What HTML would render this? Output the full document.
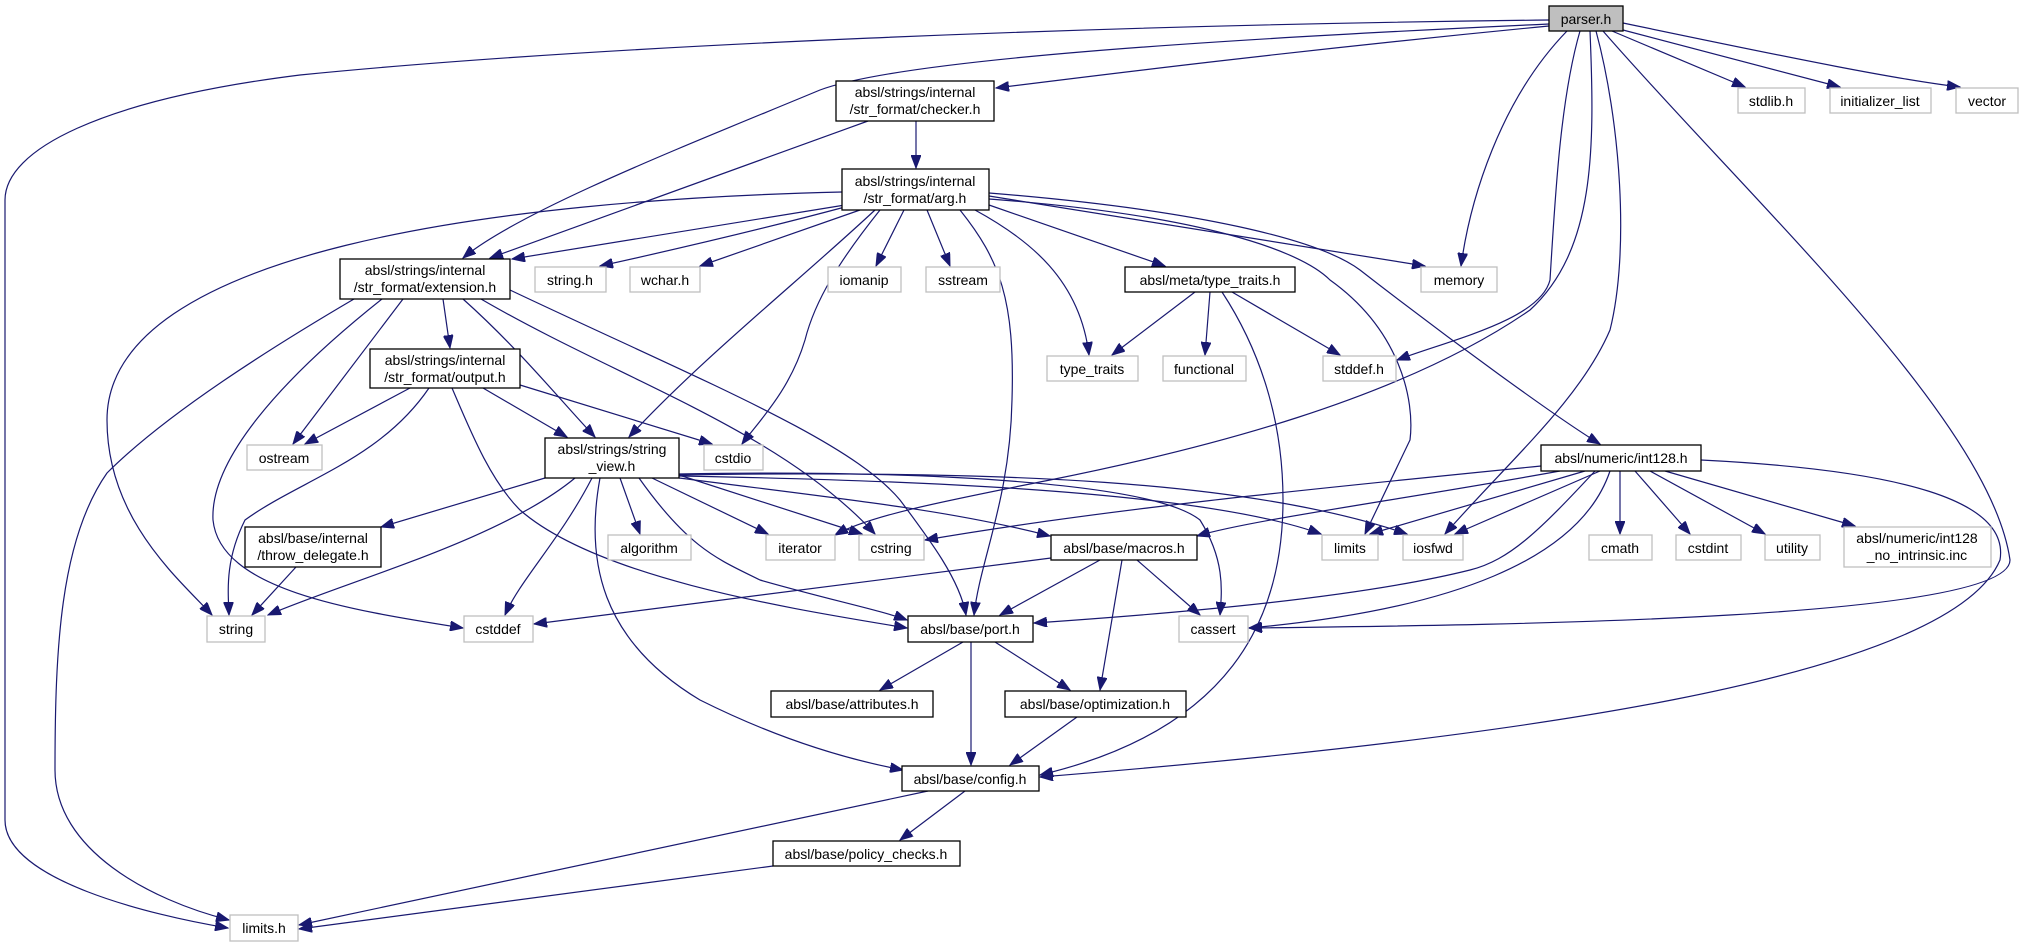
<!DOCTYPE html>
<html><head><meta charset="utf-8"><style>
html,body{margin:0;padding:0;background:#fff;}
svg{display:block;}
text{font-family:"Liberation Sans",sans-serif;font-size:14px;fill:#000;}
.e{fill:none;stroke:#191970;stroke-width:1.2;marker-end:url(#a);}
.n{fill:#fff;stroke:#000;stroke-width:1.3;}
.g{fill:#fff;stroke:#bfbfbf;stroke-width:1.3;}
</style></head><body>
<svg width="2025" height="947" viewBox="0 0 2025 947" xmlns="http://www.w3.org/2000/svg">
<defs><marker id="a" markerUnits="userSpaceOnUse" markerWidth="14" markerHeight="10" refX="13" refY="5" orient="auto"><path d="M0,0 L13,5 L0,10 z" fill="#191970" stroke="#191970"/></marker></defs>
<g>
<path class="e" d="M1549,20 C1100,25 600,45 300,75 C100,100 5,150 5,200 L5,820 C5,880 150,915 228,928"/>
<path class="e" d="M1549,24 C1200,40 900,60 820,90 C700,140 520,210 463,258"/>
<path class="e" d="M1549,26 C1300,50 1100,75 996,88"/>
<path class="e" d="M845,205 L512,259"/>
<path class="e" d="M868,121 L490,258"/>
<path class="e" d="M916,121 L916,168"/>
<path class="e" d="M845,207 C740,235 650,255 600,266"/>
<path class="e" d="M860,210 L700,266"/>
<path class="e" d="M904,210 L876,266"/>
<path class="e" d="M927,210 L950,266"/>
<path class="e" d="M842,192 C500,200 107,250 107,420 C107,520 180,580 212,615"/>
<path class="e" d="M875,210 C800,280 700,360 629,437"/>
<path class="e" d="M880,210 C840,260 815,300 805,340 C790,390 760,420 742,444"/>
<path class="e" d="M960,210 C1000,260 1015,300 1012,400 C1010,500 980,560 974,615"/>
<path class="e" d="M975,210 C1030,240 1080,280 1089,355"/>
<path class="e" d="M989,205 L1165,266"/>
<path class="e" d="M989,196 C1200,230 1350,255 1425,266"/>
<path class="e" d="M989,193 C1200,210 1320,240 1360,270 C1450,340 1560,420 1600,444"/>
<path class="e" d="M989,199 C1200,215 1300,250 1330,280 C1400,330 1415,400 1410,440 L1365,534"/>
<path class="e" d="M1567,31 C1500,100 1470,200 1461,266"/>
<path class="e" d="M1580,31 C1560,100 1555,200 1550,280 C1540,320 1450,340 1397,360"/>
<path class="e" d="M1590,31 C1595,150 1595,250 1530,310 C1400,400 1200,450 1050,480 C950,500 870,515 835,535"/>
<path class="e" d="M1596,31 C1620,120 1630,250 1610,330 C1580,400 1510,460 1445,534"/>
<path class="e" d="M1603,31 C1750,200 1990,420 2010,560 C2010,620 1500,625 1249,628"/>
<path class="e" d="M1612,31 L1745,87"/>
<path class="e" d="M1623,30 L1840,87"/>
<path class="e" d="M1623,23 C1800,60 1900,80 1960,87"/>
<path class="e" d="M443,299 L450,348"/>
<path class="e" d="M403,299 L293,444"/>
<path class="e" d="M463,299 C520,350 560,400 595,437"/>
<path class="e" d="M481,299 C620,380 780,430 875,534"/>
<path class="e" d="M510,290 C700,380 850,440 900,500 C930,540 960,580 966,615"/>
<path class="e" d="M354,299 C250,360 160,420 107,473 C60,540 55,650 55,770 C55,850 150,900 229,920"/>
<path class="e" d="M382,299 C280,380 210,460 213,520 C220,590 350,610 463,628"/>
<path class="e" d="M410,388 L305,444"/>
<path class="e" d="M483,388 L567,437"/>
<path class="e" d="M520,385 L712,444"/>
<path class="e" d="M429,388 C380,460 300,480 245,520 C225,560 228,590 229,615"/>
<path class="e" d="M452,388 C470,430 490,480 520,510 C600,580 800,610 907,628"/>
<path class="e" d="M545,478 L381,527"/>
<path class="e" d="M575,478 C500,540 350,580 268,615"/>
<path class="e" d="M592,478 C560,540 520,580 505,615"/>
<path class="e" d="M620,478 L640,534"/>
<path class="e" d="M652,478 L768,534"/>
<path class="e" d="M679,475 L862,534"/>
<path class="e" d="M639,478 C690,550 720,560 760,580 C830,600 880,610 907,620"/>
<path class="e" d="M600,478 C585,560 600,640 700,700 C780,740 850,760 903,770"/>
<path class="e" d="M679,478 C850,500 950,510 1050,536"/>
<path class="e" d="M679,476 C900,480 1200,490 1321,534"/>
<path class="e" d="M679,475 C1000,470 1250,480 1407,534"/>
<path class="e" d="M679,474 C900,470 1150,480 1200,520 C1225,560 1222,590 1220,615"/>
<path class="e" d="M1195,292 L1112,355"/>
<path class="e" d="M1210,292 L1205,355"/>
<path class="e" d="M1232,292 L1340,355"/>
<path class="e" d="M1222,292 C1260,350 1283,420 1283,500 C1283,620 1230,730 1040,775"/>
<path class="e" d="M1610,471 C1580,560 1450,610 1249,628"/>
<path class="e" d="M1595,471 C1540,530 1510,560 1470,570 C1350,600 1150,615 1034,623"/>
<path class="e" d="M1701,460 C1900,470 2010,500 2000,560 C1950,680 1500,740 1040,777"/>
<path class="e" d="M1560,471 C1400,500 1250,520 1197,536"/>
<path class="e" d="M1541,466 C1300,490 1100,510 925,540"/>
<path class="e" d="M1585,471 L1370,534"/>
<path class="e" d="M1600,471 L1455,534"/>
<path class="e" d="M1620,471 L1620,534"/>
<path class="e" d="M1635,471 L1690,534"/>
<path class="e" d="M1650,471 L1765,534"/>
<path class="e" d="M1665,471 L1855,526"/>
<path class="e" d="M1051,558 L534,624"/>
<path class="e" d="M1100,560 L1000,615"/>
<path class="e" d="M1122,560 L1100,690"/>
<path class="e" d="M1137,560 L1200,615"/>
<path class="e" d="M963,642 L880,690"/>
<path class="e" d="M971,642 L971,765"/>
<path class="e" d="M995,642 L1070,690"/>
<path class="e" d="M1077,717 L1010,765"/>
<path class="e" d="M965,791 L900,840"/>
<path class="e" d="M928,791 L299,925"/>
<path class="e" d="M773,866 L299,929"/>
<path class="e" d="M296,567 L252,615"/>
</g>
<g text-anchor="middle">
<rect x="1549" y="6" width="74" height="25" fill="#bfbfbf" stroke="#000" stroke-width="1.3"/><text x="1586" y="24">parser.h</text>
<rect class="n" x="836" y="81" width="158" height="40"/><text x="915" y="97">absl/strings/internal</text><text x="915" y="114">/str_format/checker.h</text>
<rect class="n" x="842" y="169" width="147" height="41"/><text x="915" y="186">absl/strings/internal</text><text x="915" y="203">/str_format/arg.h</text>
<rect class="n" x="340" y="259" width="170" height="40"/><text x="425" y="275">absl/strings/internal</text><text x="425" y="292">/str_format/extension.h</text>
<rect class="g" x="535" y="267" width="71" height="25"/><text x="570" y="285">string.h</text>
<rect class="g" x="630" y="267" width="70" height="25"/><text x="665" y="285">wchar.h</text>
<rect class="g" x="828" y="267" width="73" height="25"/><text x="864" y="285">iomanip</text>
<rect class="g" x="926" y="267" width="74" height="25"/><text x="963" y="285">sstream</text>
<rect class="n" x="1125" y="267" width="170" height="25"/><text x="1210" y="285">absl/meta/type_traits.h</text>
<rect class="g" x="1421" y="267" width="76" height="25"/><text x="1459" y="285">memory</text>
<rect class="g" x="1047" y="356" width="91" height="25"/><text x="1092" y="374">type_traits</text>
<rect class="g" x="1163" y="356" width="83" height="25"/><text x="1204" y="374">functional</text>
<rect class="g" x="1323" y="356" width="73" height="25"/><text x="1359" y="374">stddef.h</text>
<rect class="n" x="370" y="349" width="150" height="39"/><text x="445" y="365">absl/strings/internal</text><text x="445" y="382">/str_format/output.h</text>
<rect class="g" x="247" y="445" width="75" height="25"/><text x="284" y="463">ostream</text>
<rect class="n" x="545" y="438" width="134" height="40"/><text x="612" y="454">absl/strings/string</text><text x="612" y="471">_view.h</text>
<rect class="g" x="704" y="445" width="59" height="25"/><text x="733" y="463">cstdio</text>
<rect class="n" x="1541" y="445" width="160" height="26"/><text x="1621" y="463">absl/numeric/int128.h</text>
<rect class="n" x="245" y="527" width="136" height="40"/><text x="313" y="543">absl/base/internal</text><text x="313" y="560">/throw_delegate.h</text>
<rect class="g" x="608" y="535" width="83" height="25"/><text x="649" y="553">algorithm</text>
<rect class="g" x="766" y="535" width="69" height="25"/><text x="800" y="553">iterator</text>
<rect class="g" x="859" y="535" width="65" height="25"/><text x="891" y="553">cstring</text>
<rect class="n" x="1051" y="535" width="146" height="25"/><text x="1124" y="553">absl/base/macros.h</text>
<rect class="g" x="1322" y="535" width="56" height="25"/><text x="1350" y="553">limits</text>
<rect class="g" x="1403" y="535" width="60" height="25"/><text x="1433" y="553">iosfwd</text>
<rect class="g" x="1589" y="535" width="63" height="25"/><text x="1620" y="553">cmath</text>
<rect class="g" x="1676" y="535" width="65" height="25"/><text x="1708" y="553">cstdint</text>
<rect class="g" x="1765" y="535" width="55" height="25"/><text x="1792" y="553">utility</text>
<rect class="g" x="1844" y="527" width="147" height="40"/><text x="1917" y="543">absl/numeric/int128</text><text x="1917" y="560">_no_intrinsic.inc</text>
<rect class="g" x="207" y="616" width="58" height="26"/><text x="236" y="634">string</text>
<rect class="g" x="464" y="616" width="69" height="26"/><text x="498" y="634">cstddef</text>
<rect class="n" x="908" y="616" width="125" height="26"/><text x="970" y="634">absl/base/port.h</text>
<rect class="g" x="1179" y="616" width="69" height="26"/><text x="1213" y="634">cassert</text>
<rect class="n" x="771" y="691" width="162" height="26"/><text x="852" y="709">absl/base/attributes.h</text>
<rect class="n" x="1005" y="691" width="181" height="26"/><text x="1095" y="709">absl/base/optimization.h</text>
<rect class="n" x="902" y="766" width="137" height="25"/><text x="970" y="784">absl/base/config.h</text>
<rect class="n" x="773" y="841" width="187" height="25"/><text x="866" y="859">absl/base/policy_checks.h</text>
<rect class="g" x="230" y="915" width="68" height="26"/><text x="264" y="933">limits.h</text>
<rect class="g" x="1738" y="88" width="67" height="25"/><text x="1771" y="106">stdlib.h</text>
<rect class="g" x="1830" y="88" width="101" height="25"/><text x="1880" y="106">initializer_list</text>
<rect class="g" x="1956" y="88" width="62" height="25"/><text x="1987" y="106">vector</text>
</g>
</svg>
</body></html>
